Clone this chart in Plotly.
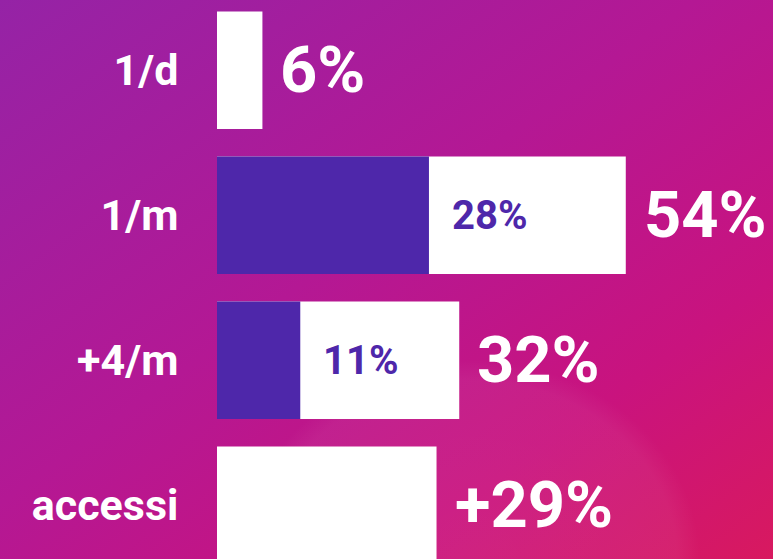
import base64
import plotly.graph_objects as go

# ---- data ----
categories = ["1/d", "1/m", "+4/m", "accessi"]
total_values = [6, 54, 32, 29]
total_labels = ["6%", "54%", "32%", "+29%"]
inner_categories = ["1/m", "+4/m"]
inner_values = [28, 11]
inner_labels = ["28%", "11%"]

W, H = 773, 559
PURPLE = "#4e27aa"

svg = f"""<svg xmlns='http://www.w3.org/2000/svg' width='{W}' height='{H}' viewBox='0 0 {W} {H}'>
<defs>
<linearGradient id='g' x1='0' y1='0' x2='1' y2='1'>
<stop offset='0' stop-color='#9523a6'/>
<stop offset='0.45' stop-color='#b41894'/>
<stop offset='0.75' stop-color='#c9137e'/>
<stop offset='1' stop-color='#d8195f'/>
</linearGradient>
<radialGradient id='r' cx='0.5' cy='0.5' r='0.5'>
<stop offset='0' stop-color='#ffffff' stop-opacity='0.06'/>
<stop offset='0.9' stop-color='#ffffff' stop-opacity='0.05'/>
<stop offset='1' stop-color='#ffffff' stop-opacity='0'/>
</radialGradient>
</defs>
<rect width='{W}' height='{H}' fill='url(#g)'/>
<ellipse cx='470' cy='560' rx='230' ry='200' fill='url(#r)'/>
</svg>"""
bg_uri = "data:image/svg+xml;base64," + base64.b64encode(svg.encode()).decode()

fig = go.Figure()
fig.add_trace(go.Bar(
    y=categories, x=total_values, orientation="h",
    marker=dict(color="white", line=dict(width=0)),
    width=0.81, hoverinfo="skip",
))
fig.add_trace(go.Bar(
    y=inner_categories, x=inner_values, orientation="h",
    marker=dict(color=PURPLE, line=dict(width=0)),
    width=0.81, hoverinfo="skip",
))

for c, v, t in zip(categories, total_values, total_labels):
    fig.add_annotation(
        x=v, y=c, text=t, showarrow=False, xanchor="left", yanchor="middle",
        xshift=16,
        font=dict(family="Roboto", size=65, color="white", weight="bold"),
    )
for c, v, t in zip(inner_categories, inner_values, inner_labels):
    fig.add_annotation(
        x=v, y=c, text=t, showarrow=False, xanchor="left", yanchor="middle",
        xshift=21,
        font=dict(family="Roboto", size=40, color=PURPLE, weight="bold"),
    )

fig.update_layout(
    width=W, height=H,
    margin=dict(l=217, r=0, t=0, b=0),
    barmode="overlay",
    showlegend=False,
    paper_bgcolor="rgba(0,0,0,0)",
    plot_bgcolor="rgba(0,0,0,0)",
    images=[dict(source=bg_uri, xref="paper", yref="paper", x=-217 / 556, y=1,
                 sizex=W / 556, sizey=1, sizing="stretch", xanchor="left",
                 yanchor="top", layer="below")],
    xaxis=dict(range=[0, 556 / 7.57], visible=False, fixedrange=True),
    yaxis=dict(
        categoryorder="array", categoryarray=categories,
        range=[3.37, -0.485],
        showgrid=False, zeroline=False, showline=False,
        ticks="outside", ticklen=29, tickcolor="rgba(0,0,0,0)",
        tickfont=dict(family="Roboto", size=43, color="white", weight="bold"),
        automargin=False, fixedrange=True,
    ),
)

fig.write_html(
    "out.html",
    config={"displayModeBar": False},
    post_script="document.body.style.margin='0';document.body.style.overflow='hidden';",
)
